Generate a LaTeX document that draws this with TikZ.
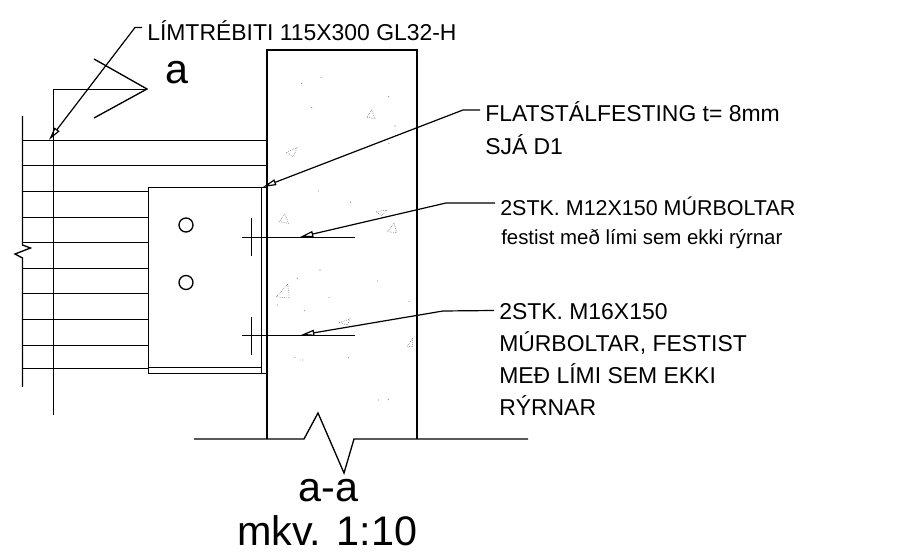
\documentclass[tikz,border=0pt]{standalone}
\usepackage{fontspec}
\setmainfont{Liberation Sans}
\usetikzlibrary{arrows.meta}

\tikzset{
  wallline/.style={line width=2pt},
  mainline/.style={line width=1pt},
  thinline/.style={line width=0.85pt},
  concretemark/.style={line width=0.4pt, densely dotted, black!70},
  leader/.style={line width=0.9pt, -{Triangle[open,length=10pt,width=4.5pt]}},
  notetext/.style={font=\fontsize{17.2pt}{19pt}\selectfont, anchor=base west, inner ysep=0pt, inner xsep=3.75pt, text depth=0pt},
  notelead/.style={notetext, text height=#1*1.5pt},
  bigtext/.style={font=\fontsize{31pt}{36pt}\selectfont, anchor=base west, inner sep=0pt},
  holemark/.style={draw, circle, line width=1pt, minimum size=10.5pt, inner sep=0pt}
}

\begin{document}
\begin{tikzpicture}[x=0.75pt, y=-0.75pt]
\useasboundingbox (0,0) rectangle (921,555);

% ----------------------
% Concrete wall
% ----------------------
\draw[wallline] (267,439) -- (267,50) -- (417,50) -- (417,439);
\draw[mainline] (194,439) -- (304,439) -- (318,413) -- (344,473) -- (354,439) -- (528,439);

% ----------------------
% Glulam beam
% ----------------------
\draw[mainline] (22.5,116) -- (22.5,245) -- (30.5,248) -- (15,254) -- (22.5,258) -- (22.5,387);
\draw[thinline] (22.5,140.5) -- (266,140.5);
\draw[thinline] (22.5,165.5) -- (266,165.5);
\draw[thinline] (22.5,191.5) -- (148,191.5);
\draw[thinline] (22.5,217.5) -- (148,217.5);
\draw[thinline] (22.5,242.5) -- (148,242.5);
\draw[thinline] (22.5,268.5) -- (148,268.5);
\draw[thinline] (22.5,293.5) -- (148,293.5);
\draw[thinline] (22.5,319.5) -- (148,319.5);
\draw[thinline] (22.5,345.5) -- (148,345.5);
\draw[thinline] (22.5,368.5) -- (148,368.5);

% ----------------------
% Section mark
% ----------------------
\draw[thinline] (53.5,415) -- (53.5,89.5) -- (147,89.5);
\draw[mainline] (94,59) -- (147,89) -- (94,118);
\node[bigtext] (sectionmark) at (165,84) {a};

% ----------------------
% Steel plate and bolts
% ----------------------
\draw[thinline] (148.5,368.5) -- (148.5,187.5) -- (267,187.5);
\draw[mainline] (148,367.5) -- (261,367.5);
\draw[thinline] (148.5,368) -- (148.5,373.5) -- (266,373.5);
\draw[thinline] (261.5,187.5) -- (261.5,373.5);

\node[holemark] (holetop) at (186,225) {};
\node[holemark] (holebottom) at (186,282.5) {};

\draw[thinline] (251.5,218) -- (251.5,256);
\draw[mainline] (242,237.5) -- (355,237.5);
\draw[thinline] (251.5,317) -- (251.5,355);
\draw[mainline] (242,335.5) -- (355,335.5);

% ----------------------
% Concrete marks
% ----------------------
\draw[concretemark] (371.7,110) -- (366.7,117.3) -- (375,118.7) -- cycle;
\draw[concretemark] (297.3,147.3) -- (286.7,152.3) -- (293.3,156.7) -- cycle;
\draw[concretemark] (285,214) -- (279.3,221.7) -- (288.3,223.3) -- cycle;
\draw[concretemark] (376,211.7) -- (386.7,210) -- (381.7,216) -- cycle;
\draw[concretemark] (394,223.3) -- (387.3,231.7) -- (396.7,232.7) -- cycle;
\draw[concretemark] (287.7,284) -- (276.7,296.7) -- (289.3,298.3) -- cycle;
\draw[concretemark] (339.3,322.7) -- (350,319) -- (347.3,325) -- cycle;
\draw[concretemark] (412.7,338.3) -- (407.3,346) -- (412.7,346.7) -- cycle;
\fill[black!55] (301.7,83.3) circle (0.4pt) (321,77.7) circle (0.4pt) (311.7,107.7) circle (0.4pt)
  (388.7,96.7) circle (0.4pt) (395,126) circle (0.4pt) (389,143.3) circle (0.4pt)
  (318.3,191) circle (0.4pt) (350.7,202.3) circle (0.4pt) (297.3,278.3) circle (0.4pt)
  (320,270) circle (0.4pt) (377.3,281) circle (0.4pt) (329,297.7) circle (0.4pt)
  (409,301.7) circle (0.4pt) (277.3,305) circle (0.4pt) (304.3,310.7) circle (0.4pt)
  (295,357.7) circle (0.4pt) (302.3,360) circle (0.4pt) (348.3,357.7) circle (0.4pt)
  (378.3,400) circle (0.4pt) (388.3,399.7) circle (0.4pt);

% ----------------------
% Notes
% ----------------------
\node[notelead=13.5] (beamnote) at (142,41) {LÍMTRÉBITI 115X300 GL32-H};
\node[notelead=12] (platenote) at (480,122) {FLATSTÁLFESTING t= 8mm};
\node[notetext] (plateref) at (480,155) {SJÁ D1};
\node[notelead=13, font=\fontsize{16.1pt}{19pt}\selectfont] (smallbolt) at (495,216) {2STK. M12X150 MÚRBOLTAR};
\node[notetext, font=\fontsize{15.3pt}{19pt}\selectfont] (smallglue) at (496,245) {festist með lími sem ekki rýrnar};
\node[notelead=9.5] (largebolt) at (494,320) {2STK. M16X150};
\node[notetext] (largeline) at (494,352) {MÚRBOLTAR, FESTIST};
\node[notetext] (largeglue) at (494,384) {MEÐ LÍMI SEM EKKI};
\node[notetext] (largeend) at (494,416) {RÝRNAR};

\node[bigtext] (sectionname) at (298,502) {a-a};
\node[bigtext] (scalenote) at (237,546) {mkv. 1:10};

% ----------------------
% Leaders
% ----------------------
\coordinate (beamtip) at (49,140);
\coordinate (platetip) at (263,187);
\coordinate (smalltip) at (300,237);
\coordinate (largetip) at (301,335);

\draw[leader] (beamnote.west) -- (135,27.5) -- (beamtip);
\draw[leader] (platenote.west) -- (463,110) -- (platetip);
\draw[leader] (smallbolt.west) -- (446,203) -- (smalltip);
\draw[leader] (largebolt.west) -- (443,311) -- (largetip);

\end{tikzpicture}
\end{document}
